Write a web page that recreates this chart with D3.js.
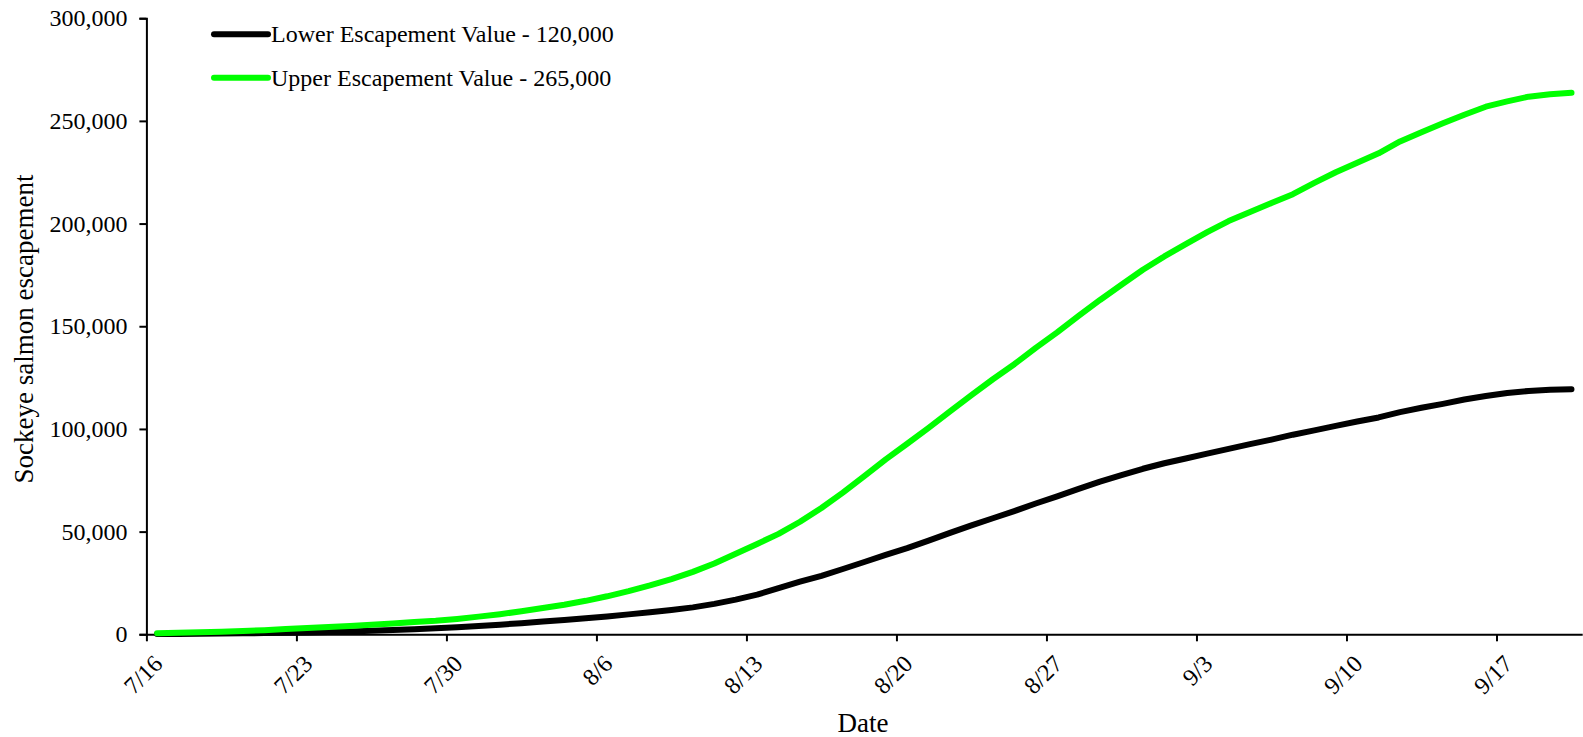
<!DOCTYPE html>
<html><head><meta charset="utf-8">
<script src="https://cdn.jsdelivr.net/npm/d3@7"></script>
<style>
html,body{margin:0;padding:0;background:#fff;}
svg{display:block;}
text{font-family:"Liberation Serif","Times New Roman",serif;fill:#000;}
</style></head>
<body><svg id="chart" width="1583" height="737"></svg>
<script>
// ---- data ----
const startDate = "2019-07-16";
const endDate = "2019-09-21";
const tickLabels = ["7/16","7/23","7/30","8/6","8/13","8/20","8/27","9/3","9/10","9/17"];
const yTicks = [0,50000,100000,150000,200000,250000,300000];
const seriesNames = ["Lower Escapement Value - 120,000","Upper Escapement Value - 265,000"];
const seriesColors = ["#000000","#00ff00"];
// daily cumulative escapement (thousands), 7/16 .. 9/20
const lowerValues = [0.1,0.2,0.3,0.4,0.5,0.6,0.7,0.9,1.1,1.4,1.7,2.1,2.5,2.9,3.4,4.0,4.7,5.4,6.2,7.0,7.8,8.7,9.7,10.7,11.8,13.1,14.8,16.9,19.3,22.5,25.6,28.5,31.8,35.2,38.7,42.0,45.6,49.4,53.0,56.5,60.0,63.7,67.2,70.8,74.3,77.5,80.6,83.3,85.6,88.0,90.3,92.6,94.8,97.2,99.3,101.5,103.6,105.6,108.2,110.3,112.2,114.3,116.0,117.5,118.5,119.1,119.3];
const upperValues = [0.5,0.8,1.0,1.3,1.6,2.0,2.6,3.1,3.6,4.1,4.7,5.3,6.0,6.6,7.5,8.6,9.8,11.2,12.8,14.4,16.3,18.5,21.0,23.8,26.9,30.4,34.5,39.2,44.0,48.9,54.8,61.5,69.0,77.0,85.2,92.8,100.5,108.5,116.5,124.2,131.5,139.5,147.0,155.0,162.8,170.2,177.5,184.0,190.0,195.8,201.2,205.6,210.0,214.3,219.8,225.0,229.6,234.2,240.0,244.5,248.8,253.0,256.9,259.5,261.8,263.0,263.7];

// ---- chart ----
const svg = d3.select("#chart");
const parse = d3.timeParse("%Y-%m-%d");
const d0 = parse(startDate), d1 = parse(endDate);
const x = d3.scaleTime().domain([d0, d1]).range([146.4, 1582.2]);
const y = d3.scaleLinear().domain([0, 300000]).range([634.3, 18.2]);
const dayPos = i => d3.timeHour.offset(d3.timeDay.offset(d0, i), 12);

// y axis
const yAxis = svg.append("g").attr("transform","translate(146.4,0)")
  .call(d3.axisLeft(y).tickValues(yTicks).tickFormat(d3.format(",")).tickSize(7).tickPadding(12));
yAxis.select(".domain").attr("stroke","#000").attr("stroke-width",2);
yAxis.selectAll(".tick line").attr("stroke","#000").attr("stroke-width",2);
yAxis.selectAll("text").attr("font-size",24).attr("font-family","Liberation Serif");

// x axis
const tickDates = tickLabels.map((l,i)=>d3.timeDay.offset(d0, i*7));
const xAxis = svg.append("g").attr("transform","translate(0,634.3)")
  .call(d3.axisBottom(x).tickValues(tickDates).tickFormat((d,i)=>tickLabels[i]).tickSize(7).tickSizeOuter(0));
xAxis.select(".domain").attr("stroke","#000").attr("stroke-width",2);
xAxis.selectAll(".tick line").attr("stroke","#000").attr("stroke-width",2);
xAxis.selectAll("text").attr("font-size",24).attr("font-family","Liberation Serif")
  .attr("text-anchor","end").attr("dy",null).attr("y",null)
  .attr("transform","translate(17,31) rotate(-45)");

// lines
const line = d3.line().x((d,i)=>x(dayPos(i))).y(d=>y(d*1000));
[lowerValues, upperValues].forEach((vals,k)=>{
  svg.append("path").datum(vals).attr("d",line)
    .attr("fill","none").attr("stroke",seriesColors[k]).attr("stroke-width",6)
    .attr("stroke-linecap","round").attr("stroke-linejoin","round");
});

// legend
const lg = svg.append("g");
seriesNames.forEach((n,k)=>{
  const yy = 34.3 + k*43.4;
  lg.append("line").attr("x1",214).attr("x2",268).attr("y1",yy).attr("y2",yy)
    .attr("stroke",seriesColors[k]).attr("stroke-width",6).attr("stroke-linecap","round");
  lg.append("text").attr("x",271).attr("y",yy).attr("dy","0.33em").attr("font-size",24).text(n);
});

// axis titles
svg.append("text").attr("x",863).attr("y",732).attr("text-anchor","middle").attr("font-size",27).text("Date");
svg.append("text").attr("transform","translate(33,329) rotate(-90)").attr("text-anchor","middle").attr("font-size",27).text("Sockeye salmon escapement");
</script></body></html>
